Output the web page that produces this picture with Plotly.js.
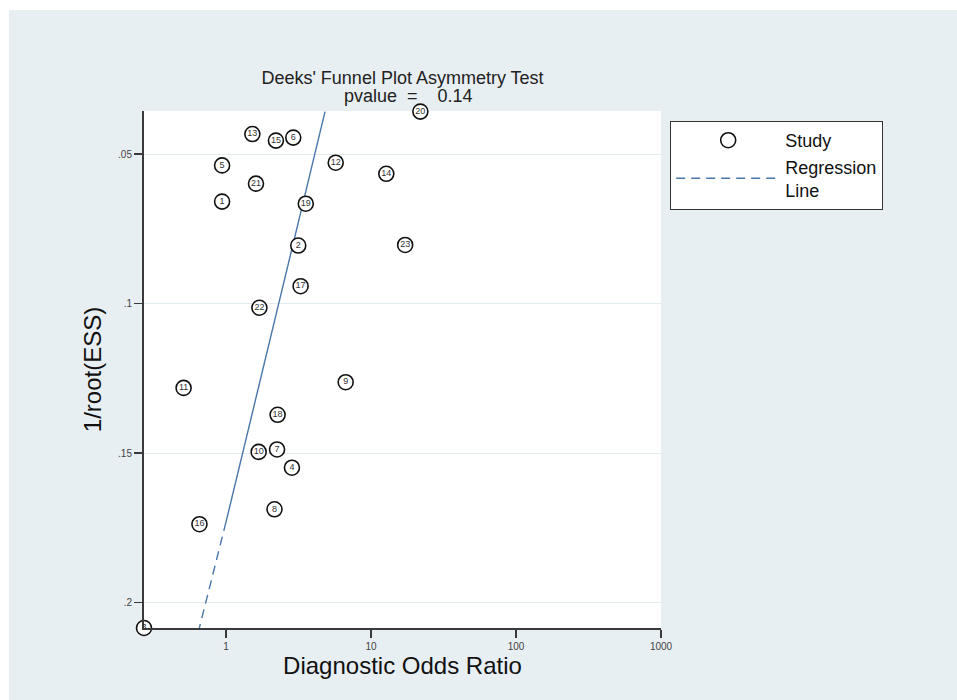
<!DOCTYPE html>
<html>
<head>
<meta charset="utf-8">
<script src="https://cdn.plot.ly/plotly-3.0.1.min.js"></script>
<style>
  html, body { margin: 0; padding: 0; background: #ffffff; }
  #chart { position: absolute; left: 9px; top: 10px; width: 948px; height: 690px; }
</style>
</head>
<body>
<div id="chart"></div>
<script>
// Study labels
const studyIds = ['1','2','3','4','5','6','7','8','9','10','11','12','13','14','15','16','17','18','19','20','21','22','23'];
// Diagnostic odds ratio of each study
const dor = [0.94, 3.15, 0.272, 2.85, 0.94, 2.91, 2.25, 2.16, 6.69, 1.68, 0.51, 5.71, 1.52, 12.75, 2.21, 0.656, 3.27, 2.27, 3.55, 21.9, 1.61, 1.70, 17.2];
// 1/root(ESS) of each study
const invRootESS = [0.0659, 0.0806, 0.2085, 0.1549, 0.0538, 0.0445, 0.1488, 0.1688, 0.1263, 0.1496, 0.1282, 0.0529, 0.0433, 0.0566, 0.0455, 0.1738, 0.0942, 0.1372, 0.0666, 0.0358, 0.0599, 0.1014, 0.0804];
// Regression line (solid part then dashed part)
const regDOR = [4.82, 1.0, 0.655];
const regY = [0.0358, 0.1731, 0.2085];
// Axis ticks
const xTickVals = [1, 10, 100, 1000];
const xTickText = ['1', '10', '100', '1000'];
const yTickVals = [0.05, 0.1, 0.15, 0.2];
const yTickText = ['.05', '.1', '.15', '.2'];
const titleLine1 = "Deeks' Funnel Plot Asymmetry Test";
const titleLine2 = "pvalue&nbsp;&nbsp;=&nbsp;&nbsp;&nbsp;&nbsp;0.14";

const FONT = 'Liberation Sans, Arial, sans-serif';
const lineColor = '#4a77aa';

const traces = [
  {
    x: regDOR.slice(0, 2), y: regY.slice(0, 2),
    mode: 'lines', type: 'scatter', showlegend: false, hoverinfo: 'skip',
    line: { color: lineColor, width: 1.4 }
  },
  {
    x: regDOR.slice(1, 3), y: regY.slice(1, 3),
    mode: 'lines', type: 'scatter', name: 'Regression<br>Line', legendrank: 2,
    line: { color: lineColor, width: 1.4, dash: '9px,6px' }
  },
  {
    x: dor, y: invRootESS, mode: 'markers', type: 'scatter', name: 'Study', legendrank: 1,
    cliponaxis: false,
    marker: { symbol: 'circle', size: 15, color: '#ffffff', line: { color: '#111111', width: 1.6 } }
  },
  {
    x: dor, y: invRootESS, mode: 'text', type: 'scatter', showlegend: false,
    text: studyIds, textposition: 'middle center', cliponaxis: false,
    textfont: { family: FONT, size: 9, color: '#333333' }
  }
];

const layout = {
  width: 948, height: 690,
  margin: { l: 135, r: 296, t: 101, b: 72 },
  paper_bgcolor: '#e8eff2',
  plot_bgcolor: '#ffffff',
  font: { family: FONT, color: '#222222' },
  showlegend: true,
  title: {
    text: titleLine1, font: { size: 18, color: '#222222' },
    x: 0.5, xref: 'paper', xanchor: 'center',
    y: 0.9015, yref: 'container', yanchor: 'middle'
  },
  annotations: [{
    text: titleLine2, showarrow: false, xref: 'paper', yref: 'paper',
    x: 0.383, xanchor: 'left', y: 1.0287, yanchor: 'middle',
    font: { size: 18, color: '#222222' }
  }],
  xaxis: {
    type: 'log', range: [Math.log10(0.272), 3],
    tickvals: xTickVals, ticktext: xTickText,
    tickfont: { size: 10, color: '#444444' },
    ticks: 'outside', ticklen: 8, tickwidth: 1.5, tickcolor: '#3a3a3a',
    showline: true, linecolor: '#3a3a3a', linewidth: 2,
    showgrid: false, zeroline: false,
    title: { text: 'Diagnostic Odds Ratio', font: { size: 24, color: '#111111' }, standoff: 0 }
  },
  yaxis: {
    range: [0.2085, 0.0356],
    tickvals: yTickVals, ticktext: yTickText,
    tickfont: { size: 10, color: '#444444' },
    ticks: 'outside', ticklen: 8, tickwidth: 1.5, tickcolor: '#3a3a3a',
    showline: true, linecolor: '#3a3a3a', linewidth: 2,
    showgrid: true, gridcolor: '#e2ecf0', gridwidth: 1, zeroline: false,
    title: { text: '1/root(ESS)', font: { size: 24, color: '#111111' }, standoff: 10 }
  },
  legend: {
    x: 1.0174, xanchor: 'left', y: 0.981, yanchor: 'top',
    bgcolor: '#ffffff', bordercolor: '#333333', borderwidth: 1.2,
    font: { size: 18, color: '#111111' },
    itemwidth: 104, tracegroupgap: 0, traceorder: 'normal'
  }
};

Plotly.newPlot('chart', traces, layout, { displayModeBar: false, staticPlot: true });
</script>
</body>
</html>
